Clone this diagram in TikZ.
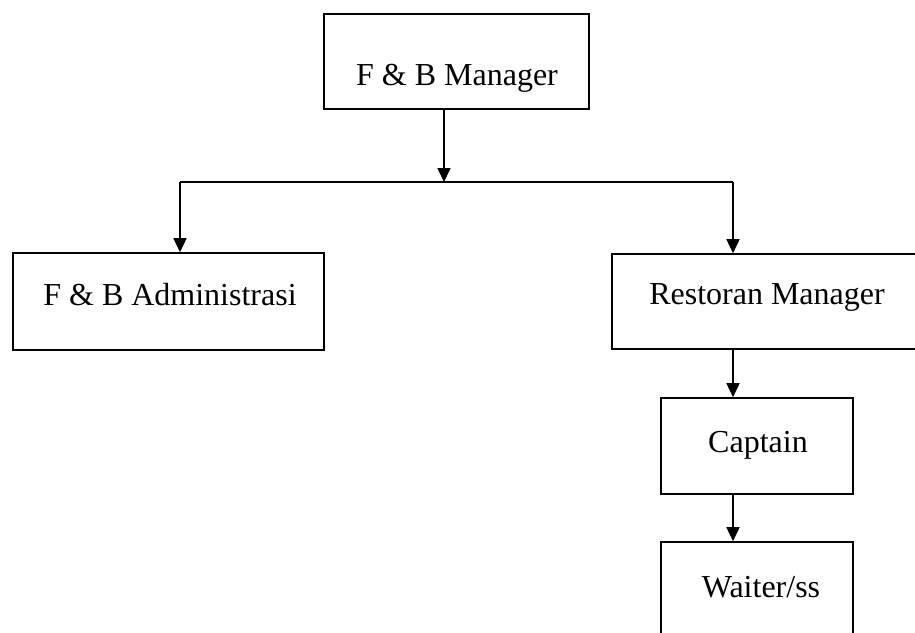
\documentclass[tikz,border=0pt]{standalone}
\usepackage{fontspec}
\setmainfont{Liberation Serif}
\usetikzlibrary{arrows.meta}
\begin{document}
\begin{tikzpicture}[x=1pt,y=-1pt,
  box/.style={draw,line width=1.6pt,inner sep=0pt,rectangle},
  lbl/.style={anchor=base,inner sep=0pt,font=\fontsize{32}{38}\selectfont},
  conn/.style={line width=1.6pt},
  arr/.style={line width=1.6pt,-{Triangle[width=13pt,length=14pt]}}]
\useasboundingbox (0,0) rectangle (915,632);
\clip (0,0) rectangle (915,632);
\node[box,minimum width=265pt,minimum height=95pt] (mgr) at (456.5,61.5) {};
\node[box,minimum width=311pt,minimum height=97pt] (adm) at (168.5,301.5) {};
\node[box,minimum width=328pt,minimum height=95pt] (rm) at (776,301.5) {};
\node[box,minimum width=192pt,minimum height=96pt] (cap) at (757,446) {};
\node[box,minimum width=192pt,minimum height=108pt] (wait) at (757,596) {};
\node[lbl] (tmgr) at (457,85) {F \& B Manager};
\node[lbl] (tadm) at (170,305) {F \& B Administrasi};
\node[lbl] (trm) at (767,304) {Restoran Manager};
\node[lbl] (tcap) at (758,452) {Captain};
\node[lbl] (twait) at (761,597) {Waiter/ss};
\coordinate (j) at (444,182);
\coordinate (jl) at (180,182);
\coordinate (jr) at (733,182);
\draw[arr] (j |- mgr.south) -- (j);
\draw[conn] (jl) -- (jr);
\draw[arr] (jl) -- (jl |- adm.north);
\draw[arr] (jr) -- (jr |- rm.north);
\draw[arr] (jr |- rm.south) -- (jr |- cap.north);
\draw[arr] (jr |- cap.south) -- (jr |- wait.north);
\end{tikzpicture}
\end{document}
